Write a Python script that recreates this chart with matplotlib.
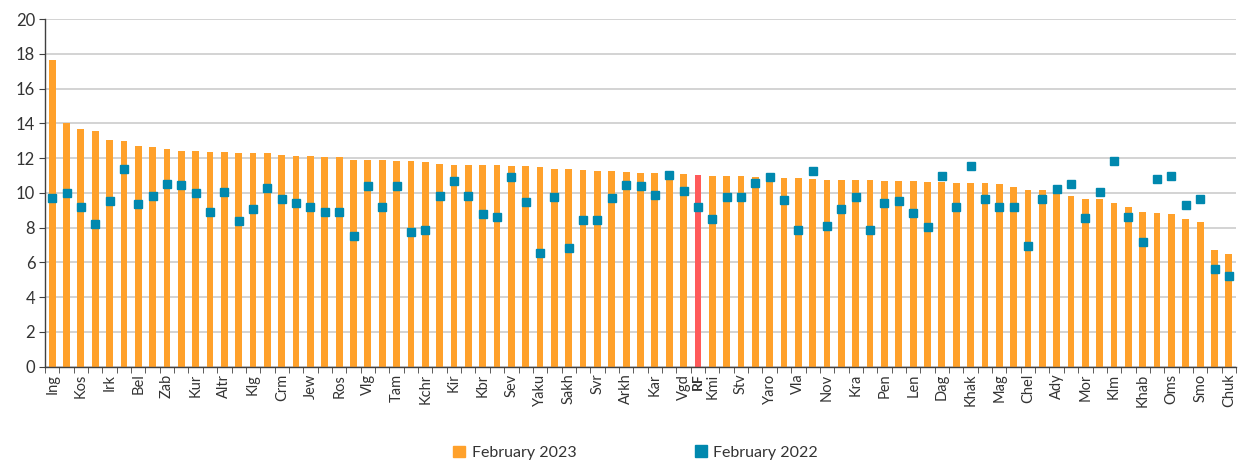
import matplotlib
matplotlib.use("Agg")
import matplotlib.pyplot as plt
from matplotlib.ticker import MultipleLocator, FixedLocator
import numpy as np

plt.rcParams['font.family'] = ['Lato', 'DejaVu Sans']

# Regions ordered by the February 2023 value; unnamed entries carry no axis label
regions = [
    "Ing", "", "Kos", "", "Irk", "", "Bel", "", "Zab", "", "Kur", "", "Altr", "",
    "Klg", "", "Crm", "", "Jew", "", "Ros", "", "Vlg", "", "Tam", "", "Kchr", "",
    "Kir", "", "Kbr", "", "Sev", "", "Yaku", "", "Sakh", "", "Svr", "", "Arkh", "",
    "Kar", "", "Vgd", "RF", "Kmi", "", "Stv", "", "Yaro", "", "Vla", "", "Nov", "",
    "Kra", "", "Pen", "", "Len", "", "Dag", "", "Khak", "", "Mag", "", "Chel", "",
    "Ady", "", "Mor", "", "Klm", "", "Khab", "", "Oms", "", "Smo", "", "Chuk",
]

feb_2023 = [
    17.64, 14.04, 13.69, 13.54, 13.06, 13.00, 12.69, 12.64, 12.50, 12.41,
    12.41, 12.35, 12.35, 12.29, 12.27, 12.27, 12.18, 12.12, 12.10, 12.06,
    12.06, 11.91, 11.91, 11.89, 11.85, 11.81, 11.75, 11.66, 11.62, 11.60,
    11.60, 11.60, 11.54, 11.52, 11.49, 11.37, 11.35, 11.29, 11.27, 11.25,
    11.20, 11.16, 11.12, 11.10, 11.08, 11.03, 10.97, 10.95, 10.95, 10.91,
    10.87, 10.85, 10.83, 10.80, 10.76, 10.74, 10.72, 10.72, 10.70, 10.68,
    10.66, 10.62, 10.60, 10.58, 10.57, 10.55, 10.51, 10.32, 10.18, 10.18,
    10.05, 9.82, 9.66, 9.65, 9.40, 9.19, 8.92, 8.82, 8.80, 8.51,
    8.30, 6.73, 6.50,
]

feb_2022 = [
    9.72, 9.97, 9.17, 8.19, 9.51, 11.39, 9.34, 9.80, 10.53, 10.43,
    9.97, 8.92, 10.03, 8.36, 9.09, 10.30, 9.63, 9.40, 9.20, 8.88,
    8.88, 7.54, 10.37, 9.18, 10.37, 7.73, 7.84, 9.80, 10.66, 9.80,
    8.76, 8.63, 10.89, 9.49, 6.52, 9.74, 6.81, 8.42, 8.42, 9.72,
    10.43, 10.37, 9.86, 11.01, 10.09, 9.17, 8.48, 9.74, 9.78, 10.55,
    10.89, 9.57, 7.84, 11.24, 8.07, 9.09, 9.78, 7.88, 9.40, 9.55,
    8.82, 8.02, 10.95, 9.17, 11.54, 9.63, 9.17, 9.17, 6.92, 9.63,
    10.24, 10.51, 8.53, 10.03, 11.83, 8.59, 7.15, 10.80, 10.95, 9.28,
    9.63, 5.60, 5.20,
]

highlight = "RF"
orange = "#FFA12B"
red = "#FF5A5A"
teal = "#0088AE"

x = np.arange(len(regions))
bar_colors = [red if r == highlight else orange for r in regions]

fig = plt.figure(figsize=(12.39, 4.66), dpi=100)
ax = fig.add_axes([0.0363, 0.2131, 0.9613, 0.7461])

ax.bar(x, feb_2023, width=0.47, color=bar_colors, zorder=2,
       label="February 2023")
ax.plot(x, feb_2022, linestyle="none", marker="s", markersize=6.2,
        color=teal, zorder=3, label="February 2022")

ax.set_xlim(-0.5, len(regions) - 0.5)
ax.set_ylim(0, 20)
ax.yaxis.set_major_locator(MultipleLocator(2))
ax.grid(axis="y", color="#C8C8C8", linewidth=1.1, zorder=0)
ax.set_axisbelow(True)

for side in ("top", "right"):
    ax.spines[side].set_visible(False)
for side in ("left", "bottom"):
    ax.spines[side].set_color("#404040")
    ax.spines[side].set_linewidth(1.0)

ax.tick_params(axis="y", direction="out", length=4, color="#404040",
               labelsize=12, labelcolor="#333333", pad=3)

# Labels sit at the bar centres, tick marks at the boundaries between bars
ax.set_xticks(x)
ax.set_xticklabels(regions, rotation=90, fontsize=10.5, color="#333333")
ax.tick_params(axis="x", which="major", length=0, pad=5)
ax.xaxis.set_minor_locator(FixedLocator(np.arange(-0.5, len(regions), 1.0)))
ax.tick_params(axis="x", which="minor", direction="out", length=4,
               color="#404040")
for lbl in ax.get_xticklabels():
    if lbl.get_text() == highlight:
        lbl.set_fontweight("bold")
        lbl.set_fontsize(10)

handles = [
    plt.Rectangle((0, 0), 1, 1, color=orange),
    plt.Line2D([], [], linestyle="none", marker="s", markersize=9,
               color=teal),
]
fig.legend(handles, ["February 2023", "February 2022"], loc="center",
           bbox_to_anchor=(0.513, 0.028), ncol=2, frameon=False,
           fontsize=11.5, columnspacing=7.4, handlelength=0.75,
           handleheight=0.75, handletextpad=0.4, labelcolor="#333333")

fig.savefig("out.png", dpi=100)
